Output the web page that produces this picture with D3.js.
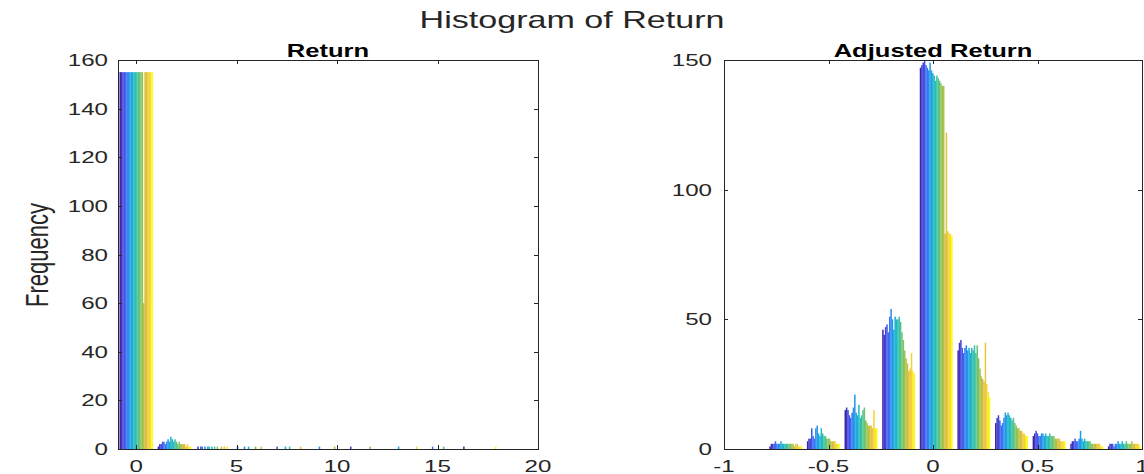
<!DOCTYPE html>
<html>
<head>
<meta charset="utf-8">
<script src="https://cdn.jsdelivr.net/npm/d3@7"></script>
<style>
  body { margin: 0; background: #fff; }
  text { font-family: "Liberation Sans", Arial, Helvetica, sans-serif; fill: #262626; }
  .tick-label { font-size: 17px; }
  .ax-title { font-size: 18px; font-weight: bold; fill: #000; }
  .sup-title { font-size: 24px; }
  .ylab { font-size: 22px; }
</style>
</head>
<body>
<svg id="chart" width="1144" height="474"></svg>
<script>
/* ---------- Dados ---------- */
// Histograma "Return": 10 classes, 24 séries (colunas da matriz)
const retCenters = [0, 1.9, 3.8, 5.7, 7.6, 9.5, 11.4, 13.3, 15.2, 17.1];
const retCounts = [
  [155,155,155,155,155,155,155,155,155,155,155,155,155,155,155,155,155,60,155,155,155,155,155,155],
  [1,2,2,3,3,2,3,4,3,5,4,3,4,3,2,3,2,2,2,2,1,2,1,1],
  [0,1,0,1,1,0,1,0,1,1,0,1,0,1,0,1,0,0,1,0,1,0,1,0],
  [0,0,1,0,0,0,0,1,0,0,1,0,0,0,0,1,0,0,0,1,0,0,0,0],
  [0,0,0,1,0,0,0,0,0,1,0,0,1,0,0,0,0,0,0,0,1,0,0,0],
  [0,0,0,0,0,0,1,0,0,0,0,0,0,0,0,0,0,1,0,0,0,0,0,0],
  [0,1,0,0,0,0,0,0,0,0,0,0,0,0,0,1,0,0,0,0,0,0,0,0],
  [0,0,0,0,0,0,0,0,1,0,0,0,0,0,0,0,0,0,0,0,0,1,0,0],
  [0,0,0,0,0,1,0,0,0,0,0,0,0,1,0,0,0,0,0,0,0,0,0,0],
  [1,0,0,0,0,0,0,0,0,0,0,0,0,0,0,0,0,0,0,0,0,0,0,1]
];

// Histograma "Adjusted Return"
const adjCenters = [-0.705, -0.525, -0.345, -0.165, 0.015, 0.195, 0.375, 0.555, 0.735, 0.915];
const adjCounts = [
  [1,2,2,2,3,2,2,2,3,2,2,2,2,2,2,2,2,2,1,2,2,1,1,1],
  [3,4,4,8,5,4,8,9,6,5,8,6,5,5,4,4,4,3,3,3,3,2,2,2],
  [15,16,15,13,12,14,16,21,14,13,17,12,13,15,16,11,10,9,9,9,8,15,8,8],
  [46,44,47,48,45,51,54,50,46,51,50,50,51,49,45,42,38,35,33,30,31,37,30,29],
  [147,148,149,152,148,147,146,149,146,145,144,142,144,143,142,141,140,140,83,122,84,83,83,82],
  [38,41,42,39,37,39,40,38,39,37,39,38,40,37,40,35,31,28,27,26,41,25,22,20],
  [10,12,13,11,9,10,12,14,13,14,13,12,11,12,10,9,8,8,7,7,6,6,5,5],
  [5,6,7,6,5,5,6,6,5,6,5,5,6,5,5,5,4,4,4,4,3,3,3,3],
  [2,3,3,4,3,3,4,7,4,3,4,3,3,3,3,2,2,2,2,2,2,2,1,1],
  [1,2,2,2,1,2,2,3,2,2,3,2,2,3,2,2,2,3,2,2,2,2,2,1]
];

const retXTicks = [0, 5, 10, 15, 20];
const retYTicks = [0, 20, 40, 60, 80, 100, 120, 140, 160];
const adjXTicks = [-1, -0.5, 0, 0.5, 1];
const adjYTicks = [0, 50, 100, 150];

/* ---------- Paleta parula ---------- */
const parula = d3.interpolateRgbBasis([
  '#3e26a8', '#4852f4', '#2e87f7', '#12b1d6', '#28c1b4',
  '#71c767', '#bcbf3c', '#fbbc41', '#f9fb0e'
]);

// a figura original está esticada na horizontal
const SX = 1.42;
const svg = d3.select('#chart');

function label(x, y, txt, cls, anchor) {
  return svg.append('text')
    .attr('class', cls)
    .attr('transform', `translate(${x},${y}) scale(${SX},1)`)
    .attr('text-anchor', anchor || 'middle')
    .text(txt);
}

label(572, 28, 'Histogram of Return', 'sup-title');

/* ---------- Painel ---------- */
function panel(opt) {
  const { x0, x1, y0, y1 } = opt;
  const nSeries = opt.counts[0].length;
  const color = i => parula(i / (nSeries - 1));

  const x = d3.scaleLinear().domain(opt.xDomain).range([x0, x1]);
  const y = d3.scaleLinear().domain(opt.yDomain).range([y1, y0]);

  const clipId = 'clip-' + opt.id;
  svg.append('clipPath').attr('id', clipId)
    .append('rect')
    .attr('x', x0).attr('y', y0)
    .attr('width', x1 - x0).attr('height', y1 - y0);

  const g = svg.append('g').attr('clip-path', `url(#${clipId})`);

  const groupW = (x(opt.binWidth) - x(0)) * 0.87;
  const inner = d3.scaleBand()
    .domain(d3.range(nSeries))
    .range([-groupW / 2, groupW / 2]);

  opt.centers.forEach((c, b) => {
    g.selectAll(null)
      .data(opt.counts[b]).enter()
      .append('rect')
      .attr('x', (d, i) => x(c) + inner(i))
      .attr('width', inner.bandwidth() + 0.15)
      .attr('y', d => y(d))
      .attr('height', d => y(0) - y(d))
      .attr('fill', (d, i) => color(i));
  });

  // caixa e ticks (estilo MATLAB: ticks para dentro, nos 4 lados)
  const axG = svg.append('g')
    .attr('stroke', '#262626').attr('stroke-width', 1).attr('fill', 'none');
  axG.append('rect')
    .attr('x', x0 + 0.5).attr('y', y0 + 0.5)
    .attr('width', x1 - x0).attr('height', y1 - y0);

  const tl = 4;
  opt.xTicks.forEach(t => {
    const px = Math.round(x(t)) + 0.5;
    axG.append('line').attr('x1', px).attr('x2', px).attr('y1', y1).attr('y2', y1 - tl);
    axG.append('line').attr('x1', px).attr('x2', px).attr('y1', y0).attr('y2', y0 + tl);
    label(x(t), y1 + 23, t, 'tick-label');
  });
  opt.yTicks.forEach(t => {
    const py = Math.round(y(t)) + 0.5;
    axG.append('line').attr('x1', x0).attr('x2', x0 + tl).attr('y1', py).attr('y2', py);
    axG.append('line').attr('x1', x1).attr('x2', x1 - tl).attr('y1', py).attr('y2', py);
    label(x0 - opt.tickGap, y(t) + 6, t, 'tick-label', 'end');
  });

  label((x0 + x1) / 2, y0 - 3, opt.title, 'ax-title');
}

panel({
  id: 'ret', title: 'Return',
  x0: 118, x1: 538, y0: 60, y1: 449, tickGap: 10,
  xDomain: [-0.9, 20], yDomain: [0, 160],
  centers: retCenters, counts: retCounts, binWidth: 1.9,
  xTicks: retXTicks, yTicks: retYTicks
});

panel({
  id: 'adj', title: 'Adjusted Return',
  x0: 724, x1: 1142, y0: 60, y1: 449, tickGap: 12,
  xDomain: [-1, 1], yDomain: [0, 150],
  centers: adjCenters, counts: adjCounts, binWidth: 0.18,
  xTicks: adjXTicks, yTicks: adjYTicks
});

svg.append('text').attr('class', 'ylab')
  .attr('transform', `translate(48,255) scale(${SX},1) rotate(-90)`)
  .attr('text-anchor', 'middle')
  .text('Frequency');
</script>
</body>
</html>
